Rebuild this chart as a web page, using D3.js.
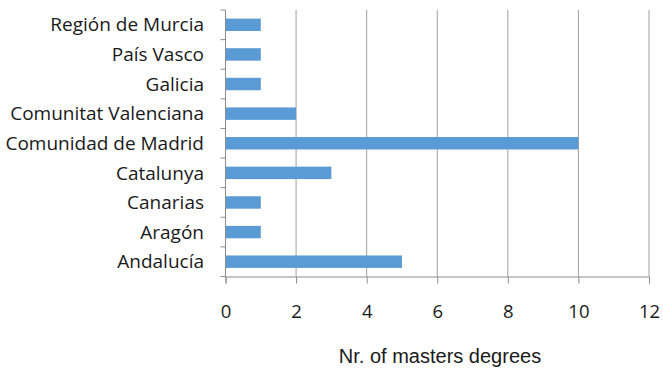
<!DOCTYPE html>
<html><head><meta charset="utf-8">
<script src="https://cdn.jsdelivr.net/npm/d3@7/dist/d3.min.js"></script>
<style>body{margin:0;background:#fff;} svg{display:block;}</style>
</head><body><svg id="c" width="663" height="371"></svg>
<script>
const categories = ["Región de Murcia","País Vasco","Galicia","Comunitat Valenciana","Comunidad de Madrid","Catalunya","Canarias","Aragón","Andalucía"];
const values = [1,1,1,2,10,3,1,1,5];
const xTicks = [0,2,4,6,8,10,12];
const xTitle = "Nr. of masters degrees";

const svg = d3.select("#c");
const m = {left:225.5, right:649, top:10, bottom:276.5};
const x = d3.scaleLinear().domain([0,12]).range([m.left, m.right]);
const y = d3.scaleBand().domain(categories).range([m.top, m.bottom]).paddingInner(0.58).paddingOuter(0.29);
const yb = d3.scaleBand().domain(categories).range([m.top, m.bottom]);
const labelFont = "'Open Sans', sans-serif";

// gridlines
svg.append("g").selectAll("line").data(xTicks.filter(d=>d>0)).join("line")
  .attr("x1",d=>x(d)).attr("x2",d=>x(d)).attr("y1",m.top).attr("y2",m.bottom)
  .attr("stroke","#a0a0a0").attr("stroke-width",1);

// bars
svg.append("g").selectAll("rect").data(values).join("rect")
  .attr("x",x(0)).attr("y",(d,i)=>y(categories[i]))
  .attr("width",d=>x(d)-x(0)).attr("height",y.bandwidth())
  .attr("fill","#5b9bd5");

// x axis
const xa = svg.append("g").attr("transform",`translate(0,${m.bottom})`)
  .call(d3.axisBottom(x).tickValues(xTicks).tickSize(7).tickPadding(0));
xa.select(".domain").attr("stroke","#8c8c8c");
xa.selectAll(".tick line").attr("stroke","#8c8c8c");
xa.selectAll(".tick text").attr("font-family",labelFont).attr("font-size",18.5).attr("fill","#1a1a1a")
  .attr("y",41.5).attr("dy",null);

// y axis: boundary ticks
const ya = svg.append("g");
ya.append("line").attr("x1",m.left).attr("x2",m.left).attr("y1",m.top).attr("y2",m.bottom).attr("stroke","#8c8c8c");
const bounds = categories.map(c=>yb(c)).concat([m.bottom]);
ya.selectAll("line.t").data(bounds).join("line").attr("class","t")
  .attr("x1",m.left-5).attr("x2",m.left).attr("y1",d=>d).attr("y2",d=>d).attr("stroke","#8c8c8c");
ya.selectAll("text").data(categories).join("text")
  .attr("x",204).attr("y",d=>yb(d)+yb.bandwidth()/2).attr("dy","0.35em")
  .attr("text-anchor","end").attr("font-family",labelFont).attr("font-size",19).attr("fill","#1a1a1a")
  .text(d=>d);

svg.append("text").attr("x",440).attr("y",363).attr("text-anchor","middle")
  .attr("font-family","'Liberation Sans', Arial, sans-serif").attr("font-size",20).attr("fill","#1a1a1a")
  .text(xTitle);
</script></body></html>
